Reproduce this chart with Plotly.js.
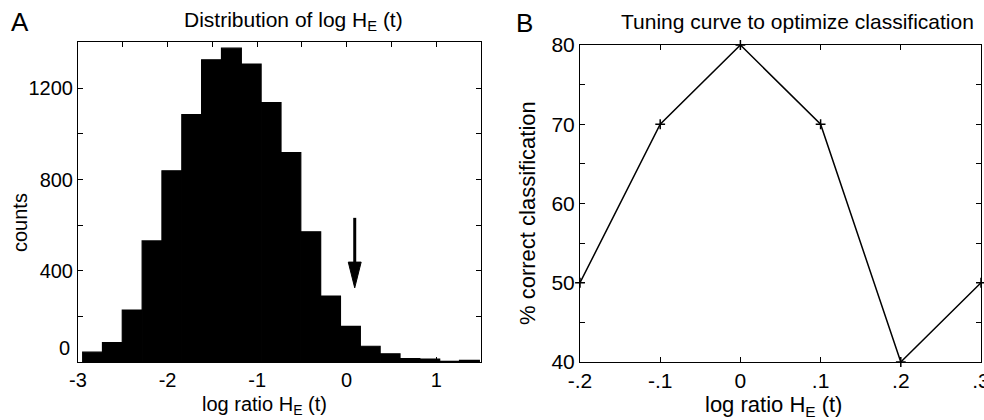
<!DOCTYPE html>
<html>
<head>
<meta charset="utf-8">
<script src="https://cdn.plot.ly/plotly-3.0.1.min.js"></script>
<style>html,body{margin:0;padding:0;background:#fff;} #chart{width:984px;height:420px;}</style>
</head>
<body>
<div id="chart"></div>
<script>
// ---- Panel A: histogram of log H_E(t) ----
var binCenters = [-2.837, -2.616, -2.395, -2.173, -1.952, -1.730, -1.509, -1.287, -1.066, -0.844,
                  -0.623, -0.401, -0.180, 0.042, 0.263, 0.485, 0.706, 0.928, 1.149, 1.371];
var binWidth = 0.2214;
var counts = [43, 85, 228, 531, 838, 1085, 1325, 1376, 1306, 1137,
              918, 571, 289, 156, 69, 36, 15, 13, 3, 7];
var histXTicks = [-3, -2, -1, 0, 1];
var histXLabels = ['-3', '-2', '-1', '0', '1'];
var histYTicks = [400, 800, 1200];
var histYLabels = ['400', '800', '1200'];
// arrow marker in panel A (data units)
var arrowX = 0.09, arrowTail = 632, arrowHeadBase = 438, arrowTip = 325, arrowHalfWidth = 0.072;

// ---- Panel B: tuning curve ----
var tuneX = [-0.2, -0.1, 0, 0.1, 0.2, 0.3];
var tuneY = [50, 70, 80, 70, 40, 50];
var tuneXLabels = ['-.2', '-.1', '0', '.1', '.2', '.3'];
var tuneYTicks = [40, 50, 60, 70, 80];
var tuneYLabels = ['40', '50', '60', '70', '80'];

var FONT = 'Liberation Sans, Arial, Helvetica, sans-serif';
var W = 984, H = 420;
function px(x) { return x / W; }
function py(y) { return 1 - y / H; }

var traces = [
  {
    type: 'bar', x: binCenters, y: counts, width: binWidth,
    marker: {color: '#000', line: {color: '#000', width: 1.2}},
    xaxis: 'x', yaxis: 'y', hoverinfo: 'x+y'
  },
  {
    type: 'scatter', mode: 'lines', x: [arrowX, arrowX], y: [arrowTail, arrowHeadBase],
    line: {color: '#000', width: 3}, xaxis: 'x', yaxis: 'y', hoverinfo: 'skip'
  },
  {
    type: 'scatter', mode: 'lines', fill: 'toself', fillcolor: '#000',
    x: [arrowX - arrowHalfWidth, arrowX + arrowHalfWidth, arrowX, arrowX - arrowHalfWidth],
    y: [arrowHeadBase, arrowHeadBase, arrowTip, arrowHeadBase],
    line: {color: '#000', width: 1}, xaxis: 'x', yaxis: 'y', hoverinfo: 'skip'
  },
  {
    type: 'scatter', mode: 'lines+markers', x: tuneX, y: tuneY,
    line: {color: '#000', width: 1.5},
    marker: {symbol: 'cross-thin', size: 7, color: '#000', line: {color: '#000', width: 1.5}},
    xaxis: 'x2', yaxis: 'y2', cliponaxis: false
  }
];

var axCommon = {
  showline: true, linecolor: '#000', linewidth: 1, mirror: 'ticks',
  ticks: 'inside', ticklen: 5, tickwidth: 1, tickcolor: '#000',
  showgrid: false, zeroline: false, tickmode: 'array', fixedrange: true,
  ticklabeloverflow: 'allow'
};
function minor(d, t0) {
  return {dtick: d, tick0: t0, ticks: 'inside', ticklen: 5, tickwidth: 1, tickcolor: '#000', showgrid: false};
}

var layout = {
  width: W, height: H,
  margin: {l: 0, r: 0, t: 0, b: 0},
  paper_bgcolor: '#fff', plot_bgcolor: '#fff',
  showlegend: false, bargap: 0,
  font: {family: FONT, color: '#000', size: 20},
  xaxis: Object.assign({}, axCommon, {
    domain: [px(78), px(481)], range: [-3, 1.5],
    tickvals: histXTicks, ticktext: histXLabels, anchor: 'y',
    minor: minor(0.5, 0),
    tickfont: {size: 20, family: FONT}
  }),
  yaxis: Object.assign({}, axCommon, {
    domain: [py(362), py(42)], range: [0, 1403],
    tickvals: histYTicks, ticktext: histYLabels, anchor: 'x',
    minor: minor(200, 0),
    tickfont: {size: 20, family: FONT}
  }),
  xaxis2: Object.assign({}, axCommon, {
    domain: [px(580), px(981)], range: [-0.2, 0.3],
    tickvals: tuneX, ticktext: tuneXLabels, anchor: 'y2',
    tickfont: {size: 21, family: FONT}
  }),
  yaxis2: Object.assign({}, axCommon, {
    domain: [py(362), py(45)], range: [40, 80],
    tickvals: tuneYTicks, ticktext: tuneYLabels, anchor: 'x2',
    minor: minor(5, 0),
    tickfont: {size: 21, family: FONT}
  }),
  annotations: [
    {text: 'A', x: px(20), y: py(22), xref: 'paper', yref: 'paper', showarrow: false,
     xanchor: 'center', yanchor: 'middle', font: {size: 26, family: FONT}},
    {text: 'B', x: px(524), y: py(23), xref: 'paper', yref: 'paper', showarrow: false,
     xanchor: 'center', yanchor: 'middle', font: {size: 26, family: FONT}},
    {text: 'Distribution of log H<sub>E</sub> (t)', x: px(293), y: py(21), xref: 'paper', yref: 'paper',
     showarrow: false, xanchor: 'center', yanchor: 'middle', font: {size: 21, family: FONT}},
    {text: 'Tuning curve to optimize classification', x: px(797), y: py(21), xref: 'paper', yref: 'paper',
     showarrow: false, xanchor: 'center', yanchor: 'middle', font: {size: 21, family: FONT}},
    {text: 'log ratio H<sub>E</sub> (t)', x: px(264), y: py(405), xref: 'paper', yref: 'paper',
     showarrow: false, xanchor: 'center', yanchor: 'middle', font: {size: 20, family: FONT}},
    {text: 'log ratio H<sub>E</sub> (t)', x: px(773), y: py(406), xref: 'paper', yref: 'paper',
     showarrow: false, xanchor: 'center', yanchor: 'middle', font: {size: 22, family: FONT}},
    {text: 'counts', x: px(20), y: py(223), xref: 'paper', yref: 'paper', textangle: -90,
     showarrow: false, xanchor: 'center', yanchor: 'middle', font: {size: 20, family: FONT}},
    {text: '% correct classification', x: px(527), y: py(213), xref: 'paper', yref: 'paper', textangle: -90,
     showarrow: false, xanchor: 'center', yanchor: 'middle', font: {size: 22, family: FONT}},
    {text: '0', x: px(72), y: py(348), xref: 'paper', yref: 'paper',
     showarrow: false, xanchor: 'right', yanchor: 'middle', font: {size: 20, family: FONT}}
  ]
};

Plotly.newPlot('chart', traces, layout, {displayModeBar: false, staticPlot: true});
</script>
</body>
</html>
